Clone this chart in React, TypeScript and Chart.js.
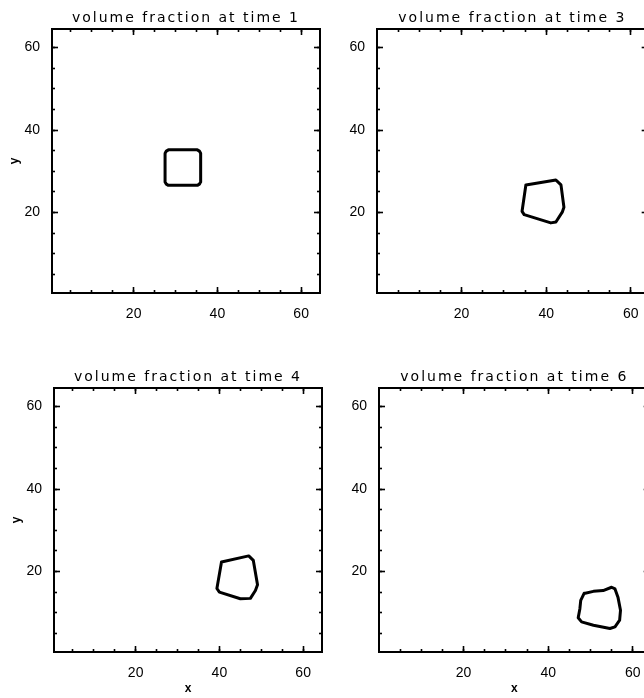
import React, { useEffect, useRef } from 'react';
import { Chart, registerables } from 'chart.js';

Chart.register(...registerables);

// ---- data ----
const TIMES = [1, 3, 4, 6];
const MINOR_TICKS = [5, 10, 15, 20, 25, 30, 35, 40, 45, 50, 55, 60];
const MAJOR_TICKS = [20, 40, 60];
// axis ranges (left column / right column)
const LEFT_RANGE = [0.5, 64.5];
const RIGHT_RANGE = [0, 64];
const Y_RANGE = [0.5, 64.5];

// interface outline at time 1 (rounded square)
const T1_X = [27.5, 27.8, 28.3, 35.2, 35.7, 36.0, 36.0, 35.7, 35.2, 28.3, 27.8, 27.5];
const T1_Y = [34.4, 34.9, 35.2, 35.2, 34.9, 34.4, 27.4, 26.9, 26.6, 26.6, 26.9, 27.4];
// time 3
const T3_X = [35.2, 42.3, 43.5, 44.2, 43.8, 42.3, 41.1, 34.8, 34.3];
const T3_Y = [26.7, 27.9, 26.7, 21.3, 20.1, 17.7, 17.5, 19.5, 20.3];
// time 4
const T4_X = [40.5, 47.0, 48.1, 49.1, 48.6, 47.4, 45.0, 40.0, 39.4];
const T4_Y = [22.3, 23.8, 22.7, 16.8, 15.4, 13.5, 13.4, 15.0, 15.9];
// time 6
const T6_X = [48.5, 50.7, 53.0, 55.0, 55.8, 56.5, 57.1, 56.9, 55.8, 54.6, 50.7, 47.9, 47.1, 47.5, 47.7];
const T6_Y = [14.7, 15.2, 15.4, 16.2, 15.8, 13.8, 10.6, 8.2, 6.6, 6.2, 7.0, 7.8, 8.8, 11.0, 13.0];

const SHAPES_X = [T1_X, T3_X, T4_X, T6_X];
const SHAPES_Y = [T1_Y, T3_Y, T4_Y, T6_Y];

// ---- layout ----
const CANVAS_W = 330;
const CANVAS_H = 340;
const PANEL_POS = [
  { left: 0, top: 0, right: 10, col: 0, showX: false, showY: true },
  { left: 325, top: 0, right: 6, col: 1, showX: false, showY: false },
  { left: 2, top: 359, right: 10, col: 0, showX: true, showY: true },
  { left: 327, top: 359, right: 6, col: 1, showX: true, showY: false },
];

const FONT = 'Liberation Sans';

const titleSpacingPlugin = {
  id: 'titleSpacing',
  beforeDraw(chart: any) {
    const tb = chart.titleBlock;
    if (tb && !tb.__patched) {
      const orig = tb.draw.bind(tb);
      tb.draw = (area: any) => {
        const ctx = chart.ctx;
        ctx.save();
        ctx.letterSpacing = '2px';
        orig(area);
        ctx.restore();
      };
      tb.__patched = true;
    }
  },
};

function makeAxis(
  position: string,
  weight: number,
  range: number[],
  tickVals: number[],
  tickLength: number,
  labels: boolean,
  size: number,
  title: any
) {
  const horizontal = position === 'top' || position === 'bottom';
  return {
    type: 'linear',
    position,
    weight,
    min: range[0],
    max: range[1],
    afterBuildTicks: (scale: any) => {
      scale.ticks = tickVals.map((v) => ({ value: v }));
    },
    afterFit: (scale: any) => {
      if (horizontal) scale.height = size;
      else scale.width = size;
    },
    grid: {
      drawOnChartArea: false,
      drawTicks: true,
      tickLength,
      tickWidth: 1.6,
      tickColor: '#000',
    },
    border: { display: true, color: '#000', width: 2 },
    ticks: {
      display: labels,
      autoSkip: false,
      maxRotation: 0,
      minRotation: 0,
      color: '#000',
      font: { family: FONT, size: 14 },
      padding: horizontal ? 16 : 15,
      callback: (v: any) => (MAJOR_TICKS.includes(Number(v)) ? String(v) : ''),
    },
    title,
  };
}

function Panel({ idx }: { idx: number }) {
  const ref = useRef<HTMLCanvasElement | null>(null);
  const pos = PANEL_POS[idx];
  useEffect(() => {
    if (!ref.current) return;
    const xs = SHAPES_X[idx];
    const ys = SHAPES_Y[idx];
    const pts = xs.map((x, i) => ({ x, y: ys[i] }));
    pts.push({ x: xs[0], y: ys[0] });
    const xr = pos.col === 0 ? LEFT_RANGE : RIGHT_RANGE;

    const xTitle = {
      display: pos.showX,
      text: 'x',
      color: '#000',
      font: { family: FONT, size: 12, weight: 'bold' },
      padding: { top: 0, bottom: 3 },
    };
    const yTitle = {
      display: pos.showY,
      text: 'y',
      color: '#000',
      font: { family: FONT, size: 12, weight: 'bold' },
      padding: { top: 7, bottom: 0 },
    };
    const off = { display: false };

    const chart = new Chart(ref.current, {
      type: 'scatter',
      data: {
        datasets: [
          {
            data: pts,
            showLine: true,
            borderColor: '#000',
            borderWidth: 3,
            borderJoinStyle: 'round',
            borderCapStyle: 'round',
            pointRadius: 0,
            fill: false,
            tension: 0,
            xAxisID: 'x',
            yAxisID: 'y',
          },
        ],
      },
      options: {
        animation: false,
        responsive: false,
        events: [],
        layout: { padding: { left: 0, right: pos.right, top: 0, bottom: 0 } },
        plugins: {
          legend: { display: false },
          tooltip: { enabled: false },
          title: {
            display: true,
            text: 'volume fraction at time ' + TIMES[idx],
            color: '#000',
            fullSize: false,
            font: { family: 'DejaVu Sans', size: 14, weight: 'normal', lineHeight: 1 },
            padding: { top: 11, bottom: 4 },
          },
        },
        scales: {
          x: makeAxis('bottom', 1, xr, MINOR_TICKS, -3, true, 47, xTitle),
          xMaj: makeAxis('bottom', 0, xr, MAJOR_TICKS, -6, false, 0, off),
          xTop: makeAxis('top', 0, xr, MINOR_TICKS, -3, false, 0, off),
          xTopMaj: makeAxis('top', 1, xr, MAJOR_TICKS, -6, false, 0, off),
          y: makeAxis('left', 1, Y_RANGE, MINOR_TICKS, -3, true, 52, yTitle),
          yMaj: makeAxis('left', 0, Y_RANGE, MAJOR_TICKS, -6, false, 0, off),
          yR: makeAxis('right', 0, Y_RANGE, MINOR_TICKS, -3, false, 0, off),
          yRMaj: makeAxis('right', 1, Y_RANGE, MAJOR_TICKS, -6, false, 0, off),
        },
      } as any,
      plugins: [titleSpacingPlugin as any],
    } as any);
    return () => chart.destroy();
  }, [idx]);

  return (
    <canvas
      ref={ref}
      width={CANVAS_W}
      height={CANVAS_H}
      style={{ position: 'absolute', left: pos.left, top: pos.top, width: CANVAS_W, height: CANVAS_H }}
    />
  );
}

export default function App() {
  return (
    <div
      style={{
        position: 'absolute',
        left: 0,
        top: 0,
        width: 644,
        height: 698,
        overflow: 'hidden',
        background: '#fff',
      }}
    >
      {TIMES.map((_, i) => (
        <Panel key={i} idx={i} />
      ))}
    </div>
  );
}
